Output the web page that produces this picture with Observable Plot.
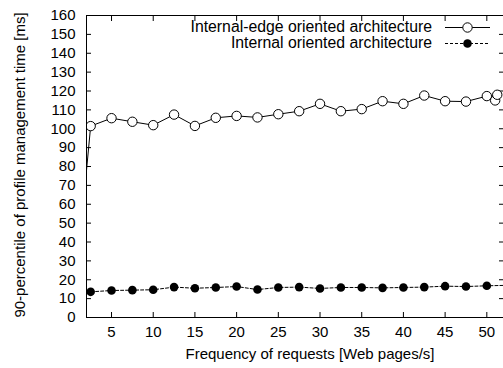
<!DOCTYPE html>
<html>
<head>
<meta charset="utf-8">
<script src="https://cdn.jsdelivr.net/npm/d3@7"></script>
<script src="https://cdn.jsdelivr.net/npm/@observablehq/plot@0.6"></script>
<style>
  html, body { margin: 0; padding: 0; background: #fff; }
  #chart { width: 503px; height: 368px; }
  svg { font-family: "Liberation Sans", Arial, sans-serif; }
</style>
</head>
<body>
<div id="chart"></div>
<script>
const seriesNames = ["Internal-edge oriented architecture", "Internal oriented architecture"];
const edgeX = [1, 2.5, 5, 7.5, 10, 12.5, 15, 17.5, 20, 22.5, 25, 27.5, 30, 32.5, 35, 37.5, 40, 42.5, 45, 47.5, 50, 51, 51.25];
const edgeY = [31, 101.4, 105.6, 103.7, 101.9, 107.5, 101.5, 105.8, 106.8, 106.0, 107.7, 109.3, 113.2, 109.3, 110.4, 114.6, 113.2, 117.6, 114.6, 114.4, 117.3, 115, 118];
const internalX = [2.5, 5, 7.5, 10, 12.5, 15, 17.5, 20, 22.5, 25, 27.5, 30, 32.5, 35, 37.5, 40, 42.5, 45, 47.5, 50, 53];
const internalY = [13.6, 14.3, 14.5, 14.7, 16.1, 15.5, 15.9, 16.4, 14.8, 15.9, 16.1, 15.4, 15.9, 15.9, 15.7, 15.9, 16.1, 16.6, 16.4, 16.8, 17.1];
const xTicks = [5, 10, 15, 20, 25, 30, 35, 40, 45, 50];
const yTicks = [0, 10, 20, 30, 40, 50, 60, 70, 80, 90, 100, 110, 120, 130, 140, 150, 160];
const xLabel = "Frequency of requests [Web pages/s]";
const yLabel = "90-percentile of profile management time [ms]";

const edge = edgeX.map((x, i) => ({x, y: edgeY[i]}));
const internal = internalX.map((x, i) => ({x, y: internalY[i]}));

const fs = 15;
const legendFs = 15.8;
const plot = Plot.plot({
  width: 503,
  height: 368,
  marginLeft: 86,
  marginRight: 0,
  marginTop: 15,
  marginBottom: 51,
  style: {fontSize: fs + "px", fontFamily: '"Liberation Sans", Arial, sans-serif', color: "black", background: "white"},
  x: {domain: [2, 52]},
  y: {domain: [0, 160]},
  marks: [
    Plot.axisX({anchor: "bottom", ticks: xTicks, tickSize: 0, tickPadding: 9, fontSize: fs, label: null}),
    Plot.axisX({anchor: "bottom", ticks: xTicks, tickSize: -5, text: null, label: null}),
    Plot.axisX({anchor: "top", ticks: xTicks, tickSize: -5, text: null, label: null}),
    Plot.axisY({anchor: "left", ticks: yTicks, tickSize: 0, tickPadding: 11, fontSize: fs, label: null}),
    Plot.axisY({anchor: "left", ticks: yTicks, tickSize: -5, text: null, label: null}),
    Plot.axisY({anchor: "right", ticks: yTicks, tickSize: -5, text: null, label: null}),
    Plot.line(internal, {x: "x", y: "y", stroke: "black", strokeWidth: 1, strokeDasharray: "3,2", clip: true}),
    Plot.dot(internal, {x: "x", y: "y", r: 4.3, fill: "black", stroke: "none", clip: true}),
    Plot.line(edge, {x: "x", y: "y", stroke: "black", strokeWidth: 1, clip: true}),
    Plot.dot(edge, {x: "x", y: "y", r: 4.7, fill: "white", stroke: "black", strokeWidth: 1, clip: true}),
    Plot.frame({stroke: "black", strokeWidth: 1})
  ]
});

const svg = d3.select(plot);
// axis titles
svg.append("text")
  .attr("x", 310).attr("y", 355).attr("text-anchor", "middle").attr("dominant-baseline", "middle")
  .attr("font-size", fs).attr("fill", "black").text(xLabel);
svg.append("text")
  .attr("transform", "translate(21,165) rotate(-90)")
  .attr("text-anchor", "middle").attr("dominant-baseline", "middle")
  .attr("font-size", fs).attr("fill", "black").text(yLabel);

// legend
const leg = svg.append("g");
const rows = [
  {name: seriesNames[0], y: 27.5, dash: null, fill: "white"},
  {name: seriesNames[1], y: 43.5, dash: "3,2", fill: "black"}
];
rows.forEach(r => {
  leg.append("text").attr("x", 432).attr("y", r.y).attr("text-anchor", "end")
    .attr("dominant-baseline", "middle").attr("font-size", legendFs).attr("fill", "black").text(r.name);
  leg.append("line").attr("x1", 445).attr("x2", 490).attr("y1", r.y).attr("y2", r.y)
    .attr("stroke", "black").attr("stroke-width", 1).attr("stroke-dasharray", r.dash);
  leg.append("circle").attr("cx", 467.5).attr("cy", r.y).attr("r", r.fill === "white" ? 4.7 : 4.3)
    .attr("fill", r.fill).attr("stroke", r.fill === "white" ? "black" : "none");
});

document.getElementById("chart").appendChild(plot);
</script>
</body>
</html>
